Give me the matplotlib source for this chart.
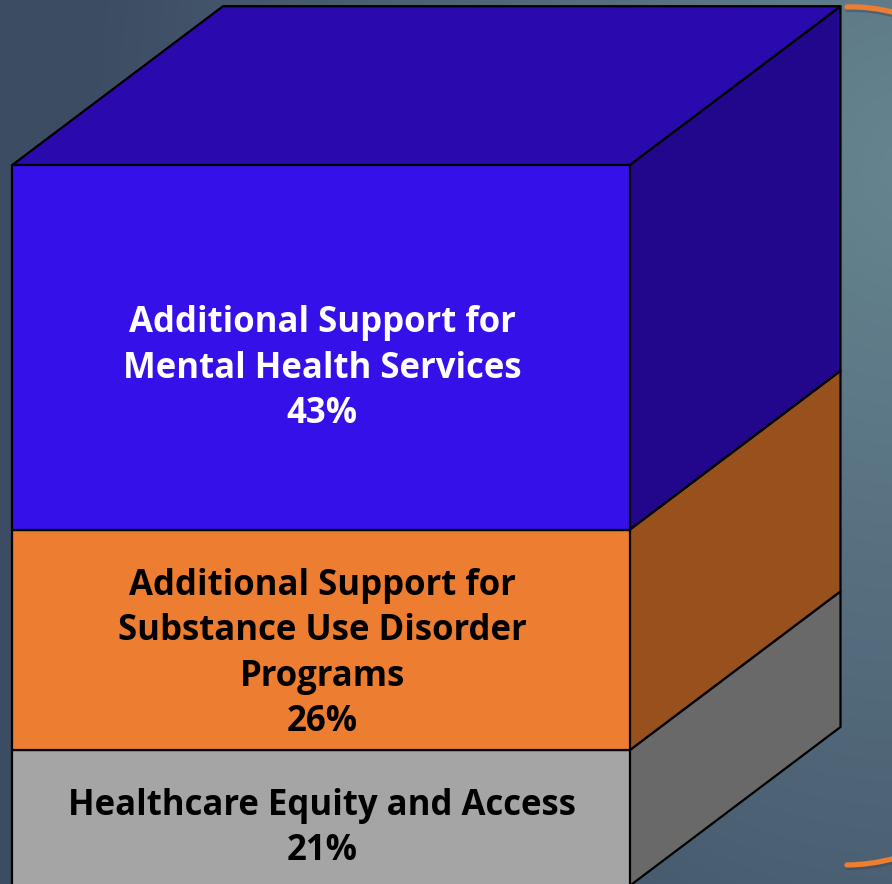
import numpy as np
import matplotlib
matplotlib.use("Agg")
import matplotlib.pyplot as plt
from matplotlib.patches import Polygon, PathPatch
from matplotlib.path import Path

labels = ["Healthcare Equity and Access\n21%",
          "Additional Support for\nSubstance Use Disorder\nPrograms\n26%",
          "Additional Support for\nMental Health Services\n43%"]
values = [21, 26, 43]
front_colors = ["#A5A5A5", "#ED7D31", "#3510E8"]
side_colors = ["#696969", "#98501D", "#22078C"]
text_colors = ["#000000", "#000000", "#FFFFFF"]
top_color = "#2A0AAC"
label_shift_px = [11, -14, -21]

W, H = 892, 884
PX_PER_PCT = 8.48
AXIS_MIN = 5
BAR_LEFT, BAR_RIGHT = 12, 629.5
DEPTH_X = 211
DEPTH_Y = 159 / PX_PER_PCT

fig = plt.figure(figsize=(W / 100, H / 100), dpi=100)
ax = fig.add_axes([0, 0, 1, 1])
ymin = AXIS_MIN + 2 / PX_PER_PCT
ymax = ymin + H / PX_PER_PCT
ax.set_xlim(0, W)
ax.set_ylim(ymin, ymax)
ax.axis("off")

# background glow, brighter towards the upper right
yy, xx = np.mgrid[0:H, 0:W]
d = np.hypot((xx - 900) / 820, (yy - 170) / 1100)
t = np.clip(d, 0, 1)[..., None]
c1 = np.array([0x66, 0x84, 0x90]) / 255
c2 = np.array([0x3C, 0x4C, 0x63]) / 255
ax.imshow(c1 + (c2 - c1) * t, extent=(0, W, ymin, ymax), origin="upper",
          aspect="auto", zorder=0)

ec = dict(edgecolor="black", linewidth=1.6, joinstyle="round")
running = 0
for i, v in enumerate(values):
    running += v
    y0 = max(running - v, AXIS_MIN)
    y1 = running
    ax.bar((BAR_LEFT + BAR_RIGHT) / 2, y1 - y0, BAR_RIGHT - BAR_LEFT, bottom=y0,
           color=front_colors[i], zorder=3, **ec)
    ax.add_patch(Polygon([(BAR_RIGHT, y0), (BAR_RIGHT + DEPTH_X, y0 + DEPTH_Y),
                          (BAR_RIGHT + DEPTH_X, y1 + DEPTH_Y), (BAR_RIGHT, y1)],
                         facecolor=side_colors[i], zorder=2, **ec))
    ax.annotate(labels[i], ((BAR_LEFT + BAR_RIGHT) / 2, running - v / 2),
                xytext=(1.2, label_shift_px[i] * 0.72), textcoords="offset points",
                color=text_colors[i], ha="center", va="center", fontsize=25,
                fontweight="bold", family="Open Sans", linespacing=1.34, zorder=5)

ax.add_patch(Polygon([(BAR_LEFT, running), (BAR_LEFT + DEPTH_X, running + DEPTH_Y),
                      (BAR_RIGHT + DEPTH_X, running + DEPTH_Y), (BAR_RIGHT, running)],
                     facecolor=top_color, zorder=2, **ec))


def to_y(py):
    return ymin + (H - py) / PX_PER_PCT


# orange bracket ends on the right
for pts in ([(847, 7), (870, 6), (896, 13)], [(847, 865), (870, 865), (896, 858)]):
    verts = [(x, to_y(y)) for x, y in pts]
    shadow = [(x + 1, y - 0.3) for x, y in verts]
    path_codes = [Path.MOVETO, Path.CURVE3, Path.CURVE3]
    ax.add_patch(PathPatch(Path(shadow, path_codes), fill=False, edgecolor="#33404f",
                           alpha=0.4, linewidth=3.8, capstyle="round", zorder=1))
    ax.add_patch(PathPatch(Path(verts, path_codes), fill=False, edgecolor="#ED7D31",
                           linewidth=3.8, capstyle="round", zorder=2))

fig.savefig("out.png", dpi=100)
